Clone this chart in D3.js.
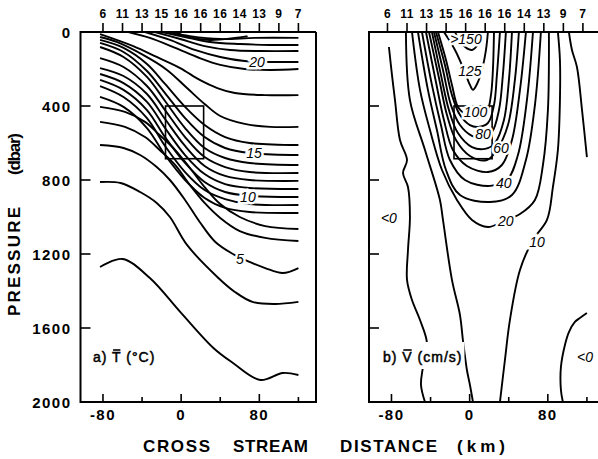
<!DOCTYPE html>
<html>
<head>
<meta charset="utf-8">
<script src="https://cdn.jsdelivr.net/npm/d3@7"></script>
<style>
body{margin:0;background:#fff;}
svg text{font-family:"Liberation Sans",Arial,sans-serif;font-weight:bold;fill:#000;}
</style>
</head>
<body>
<svg id="chart" width="598" height="459"></svg>
<script>
// station numbers along the top of both sections
var stationKm = [-80,-60,-40,-20,0,20,40,60,80,100,120];
var stationNo = [6,11,13,15,16,16,16,14,13,9,7];
var xTicks = [-80,-40,0,40,80,120];
var xTickLabels = [-80,0,80];
var yTicks = [0,400,800,1200,1600,2000];
var boxKm = [-16,23];
var boxDbar = [400,685];

// a) mean temperature, isotherms every 1 degC, points are [km, dbar]
var t3  = [[-83,1270],[-60,1227],[-32,1330],[-1,1513],[33,1708],[53,1789],[81,1881],[104,1843],[120,1854]];
var t4  = [[-83,811],[-62,816],[-42,865],[-25,924],[-11.5,1000],[6,1151],[37,1324],[55,1405],[73,1459],[96,1470],[120,1459]];
var t5  = [[-83,611],[-59,627],[-42,665],[-25,730],[-11.5,800],[4,908],[19,1027],[35,1135],[53,1200],[70,1243],[86,1276],[104,1303],[120,1276]];
var t6  = [[-83,486],[-57.5,513],[-37,568],[-22,638],[-6,719],[9,827],[24,924],[40,1005],[60,1076],[86,1113],[120,1130]];
var t7  = [[-83,405],[-57.5,432],[-37,486],[-22,557],[-6,638],[9,735],[24,838],[40,930],[60,1000],[86,1049],[120,1065]];
var t8  = [[-83,351],[-59,405],[-35,519],[-16.5,665],[4,800],[24,897],[45,951],[70,973],[120,978]];
var t9  = [[-83,292],[-59,351],[-35,465],[-16.5,616],[4,757],[24,854],[45,903],[70,930],[120,935]];
var t10 = [[-83,259],[-59,313],[-35,422],[-16.5,568],[4,708],[24,811],[45,865],[70,886],[120,892]];
var t11 = [[-83,227],[-59,276],[-35,378],[-16.5,519],[4,665],[24,768],[45,822],[70,843],[120,849]];
var t12 = [[-83,195],[-59,238],[-35,335],[-16.5,470],[4,616],[24,724],[45,778],[70,800],[120,805]];
var t13 = [[-83,141],[-59,189],[-35,292],[-16.5,422],[4,568],[24,676],[45,730],[70,757],[120,762]];
var t14 = [[-83,81],[-59,135],[-35,243],[-16.5,373],[4,519],[24,627],[45,681],[70,708],[120,719]];
var t15 = [[-83,59],[-59,108],[-35,211],[-16.5,330],[4,465],[24,568],[45,627],[70,654],[120,665]];
var t16 = [[-83,43],[-59,86],[-35,173],[-16.5,281],[4,405],[24,503],[45,568],[70,600],[120,611]];
var t17 = [[-83,27],[-66,54],[-39,124],[-14.5,205],[6,303],[24,389],[40,454],[65,497],[91,513],[120,513]];
var t18 = [[-83,11],[-49,76],[-25,135],[-1,195],[19,259],[37,303],[55,330],[86,341],[120,341]];
var t19 = [[-54,0],[-32,32],[-6,86],[19,141],[40,178],[65,200],[91,205],[120,200]];
var t20 = [[-37,0],[-11.5,43],[14,97],[40,135],[65,157],[91,162],[120,162]];
var t21 = [[-27,0],[-1,38],[24,76],[50,97],[81,103],[120,103]];
var t22 = [[-20,0],[4,27],[29.5,54],[60,65],[91,70],[120,70]];
var t23 = [[-13.5,0],[9,22],[40,38],[75.5,32],[120,32]];
var t24 = [[-6,0],[7,27],[29.5,43],[55,32],[68,22]];
var tempLines = [t3,t4,t5,t6,t7,t8,t9,t10,t11,t12,t13,t14,t15,t16,t17,t18,t19,t20,t21,t22,t23,t24];
var tempLabels = [["20",77.7,162],["15",74.5,654],["10",68.3,892],["5",60.2,1227]];

// b) mean downstream velocity (cm/s)
var v150 = [[-15,0],[-8,65],[2.4,97],[8.5,65],[11.6,0]];
var v125 = [[-26.3,0],[-15,97],[-5.8,205],[0.3,286],[3.4,313],[7.5,281],[12.6,205],[16.7,97],[18.7,0]];
var v100 = [[-32.4,0],[-24.2,151],[-18.1,286],[-12,405],[-4.8,443],[2.4,459],[10.5,459],[17.7,432],[21.8,341],[23.8,205],[24.9,0]];
var v90  = [[-34.5,0],[-25.3,178],[-18.1,341],[-9.9,449],[0.3,503],[8.5,513],[18.7,492],[24.9,395],[27.9,232],[31,0]];
var v80  = [[-36.5,0],[-27.3,205],[-19.1,395],[-9.9,503],[2.4,562],[12.6,573],[22.8,541],[30,422],[34,232],[37.1,0]];
var v70  = [[-38.6,0],[-29.4,232],[-21.2,422],[-12,546],[2.4,622],[15.7,632],[25.9,600],[35.1,476],[40.2,259],[43.3,0]];
var v60  = [[-41.6,0],[-31.4,249],[-23.2,449],[-14,584],[0.3,670],[17.7,692],[27.9,638],[39.2,503],[46.3,259],[50.4,0]];
var v50  = [[-44.7,0],[-34.5,270],[-26.3,476],[-17.1,638],[-2.8,724],[18.7,757],[33,719],[43.3,584],[51.5,313],[57.6,0]];
var v40  = [[-48.8,0],[-38.6,286],[-29.4,503],[-20.2,692],[-4.8,800],[20.8,832],[38.2,800],[49.4,665],[58.6,368],[64.8,0]];
var v30  = [[-52.9,0],[-42.7,313],[-33.5,530],[-24.2,746],[-9.9,881],[20.8,919],[43.3,881],[57.6,692],[66.8,395],[72.9,0]];
var v20  = [[-59,0],[-50.8,313],[-40.6,530],[-28.3,746],[-13,908],[2.4,1016],[18.7,1054],[33,1027],[51.5,984],[66.8,908],[75,719],[80.1,422],[81.1,0]];
var v10a = [[-65.2,0],[-61.1,368],[-45.7,638],[-30.4,908],[-27.3,1016],[-18.1,1340],[-9.9,1530],[-6.9,1665],[-2.8,1827],[0.3,1908],[3.4,2000]];
var v10b = [[90.3,0],[92.4,151],[92.4,368],[90.3,638],[85.2,838],[79.1,1016],[64.8,1124],[51.5,1286],[41.2,1557],[36.1,1773],[31,2000]];
var v0a  = [[-82.6,81],[-79.5,232],[-76.4,368],[-71.3,584],[-64.1,692],[-68.2,762],[-63.1,838],[-61.1,1000],[-63.1,1178],[-64.1,1340],[-59,1449],[-50.8,1557],[-43.7,1681],[-47.8,1811],[-49.8,1908],[-45.7,2000]];
var v0b  = [[101.6,0],[104.7,97],[109.8,189],[115,422],[120,676]];
var v0c  = [[120,1519],[112.8,1546],[107.7,1567],[101.6,1622],[97.5,1692],[93.4,1811],[93.4,1935],[95.4,2000]];
var velLines = [v150,v125,v100,v90,v80,v70,v60,v50,v40,v30,v20,v10a,v10b,v0a,v0b,v0c];
var velLabels = [[">150",-3.8,38],["125",0.3,210],["100",6,432],["80",13.6,551],["60",32,627],["40",35,819],["20",37,1022],["10",69,1135],["<0",-82.6,1005],["<0",118,1757]];

var svg = d3.select("#chart");
var yTop = 32, yBot = 402;
var y = d3.scaleLinear().domain([0,2000]).range([yTop,yBot]);

function drawPanel(id, left, right, lines, labels, stationShift, showY, tag, sym)
{
	var x = d3.scaleLinear().domain([-103,138]).range([left,right]);
	var g = svg.append("g").attr("id",id);

	g.append("clipPath").attr("id","clip"+id)
		.append("rect").attr("x",left).attr("y",yTop).attr("width",right-left).attr("height",yBot-yTop);

	var line = d3.line()
		.x(function(d){return x(d[0]);})
		.y(function(d){return y(d[1]);})
		.curve(d3.curveCatmullRom.alpha(0.5));

	var cg = g.append("g").attr("clip-path","url(#clip"+id+")");
	cg.selectAll("path.c")
		.data(lines)
		.enter().append("path")
		.attr("class","c")
		.attr("d",line)
		.attr("fill","none")
		.attr("stroke","#000")
		.attr("stroke-width",1.9)
		.attr("stroke-linejoin","round");

	// the averaging box
	cg.append("rect")
		.attr("x",x(boxKm[0])).attr("y",y(boxDbar[0]))
		.attr("width",x(boxKm[1])-x(boxKm[0]))
		.attr("height",y(boxDbar[1])-y(boxDbar[0]))
		.attr("fill","none").attr("stroke","#000").attr("stroke-width",1.6);

	cg.selectAll("text.lab")
		.data(labels)
		.enter().append("text")
		.attr("class","lab")
		.attr("x",function(d){return x(d[1]);})
		.attr("y",function(d){return y(d[2]);})
		.attr("dy","0.35em")
		.attr("text-anchor","middle")
		.style("font-size","14px")
		.style("font-style","italic")
		.style("font-weight","normal")
		.style("paint-order","stroke")
		.style("stroke","#fff")
		.style("stroke-width","5px")
		.text(function(d){return d[0];});

	// frame
	var frame = "M"+right+","+yTop+"H"+left+"V"+yBot+"H"+right;
	if(right < 598){frame += "V"+yTop;}
	g.append("path").attr("d",frame).attr("fill","none").attr("stroke","#000").attr("stroke-width",2);

	// inward ticks
	g.selectAll("line.yt")
		.data(yTicks.slice(1,-1))
		.enter().append("line")
		.attr("x1",left).attr("x2",left+10)
		.attr("y1",function(d){return y(d);}).attr("y2",function(d){return y(d);})
		.attr("stroke","#000").attr("stroke-width",1.6);
	if(showY){
		g.selectAll("text.yl")
			.data(yTicks)
			.enter().append("text")
			.attr("x",left-9)
			.attr("y",function(d){return y(d)+5.5;})
			.attr("text-anchor","end")
			.style("font-size","15px")
			.style("letter-spacing","1.5px")
			.text(function(d){return d;});
	}
	g.selectAll("line.xt")
		.data(xTicks)
		.enter().append("line")
		.attr("x1",function(d){return x(d);}).attr("x2",function(d){return x(d);})
		.attr("y1",yBot)
		.attr("y2",function(d){return xTickLabels.indexOf(d)>=0 ? yBot-8 : yBot-5;})
		.attr("stroke","#000").attr("stroke-width",1.6);
	g.selectAll("text.xl")
		.data(xTickLabels)
		.enter().append("text")
		.attr("x",function(d){return x(d);})
		.attr("y",420)
		.attr("text-anchor","middle")
		.style("font-size","15px")
		.style("letter-spacing","1.5px")
		.text(function(d){return String(d);});

	// station ticks and numbers
	g.selectAll("line.st")
		.data(stationKm)
		.enter().append("line")
		.attr("x1",function(d){return x(d)+stationShift;}).attr("x2",function(d){return x(d)+stationShift;})
		.attr("y1",yTop).attr("y2",yTop-9)
		.attr("stroke","#000").attr("stroke-width",1.6);
	g.selectAll("text.sn")
		.data(stationNo)
		.enter().append("text")
		.attr("x",function(d,i){return x(stationKm[i])+stationShift;})
		.attr("y",18)
		.attr("text-anchor","middle")
		.style("font-size","12px")
		.style("letter-spacing","0.5px")
		.text(function(d){return d;});

	// panel label with an overbar on the symbol; white patch breaks the lines under it
	var t = g.append("text")
		.attr("x",tag.x).attr("y",362)
		.style("font-size","14px")
		.style("font-weight","normal")
		.style("stroke","#000").style("stroke-width","0.5px")
		.style("letter-spacing","1px")
		.text(tag.text);
	var bg = t.node().getBBox();
	cg.append("rect")
		.attr("x",bg.x-2).attr("y",bg.y-7).attr("width",bg.width+4).attr("height",bg.height+11)
		.attr("fill","#fff");
	var ext = t.node().getExtentOfChar(tag.text.indexOf(sym));
	g.append("line")
		.attr("x1",ext.x+1).attr("x2",ext.x+ext.width-1)
		.attr("y1",ext.y+1).attr("y2",ext.y+1)
		.attr("stroke","#000").attr("stroke-width",1.6);
}

drawPanel("pa",80.5,316,tempLines,tempLabels,0,true,{x:93,text:"a) T (\u00B0C)"},"T");
drawPanel("pb",369,604.5,velLines,velLabels,-4,false,{x:383,text:"b) V (cm/s)"},"V");

// axis titles
var xTitle = [["CROSS",143,67],["STREAM",233,75],["DISTANCE",340,97],["(km)",457,48]];
svg.selectAll("text.xtitle")
	.data(xTitle)
	.enter().append("text")
	.attr("x",function(d){return d[1];})
	.attr("y",452)
	.attr("textLength",function(d){return d[2];})
	.attr("lengthAdjust","spacing")
	.style("font-size","17px")
	.text(function(d){return d[0];});

var yTitle = [["PRESSURE",316,109],["(dbar)",175,42]];
svg.selectAll("text.ytitle")
	.data(yTitle)
	.enter().append("text")
	.attr("transform",function(d){return "translate(20,"+d[1]+") rotate(-90)";})
	.attr("textLength",function(d){return d[2];})
	.attr("lengthAdjust","spacing")
	.style("font-size","17px")
	.text(function(d){return d[0];});
</script>
</body>
</html>
